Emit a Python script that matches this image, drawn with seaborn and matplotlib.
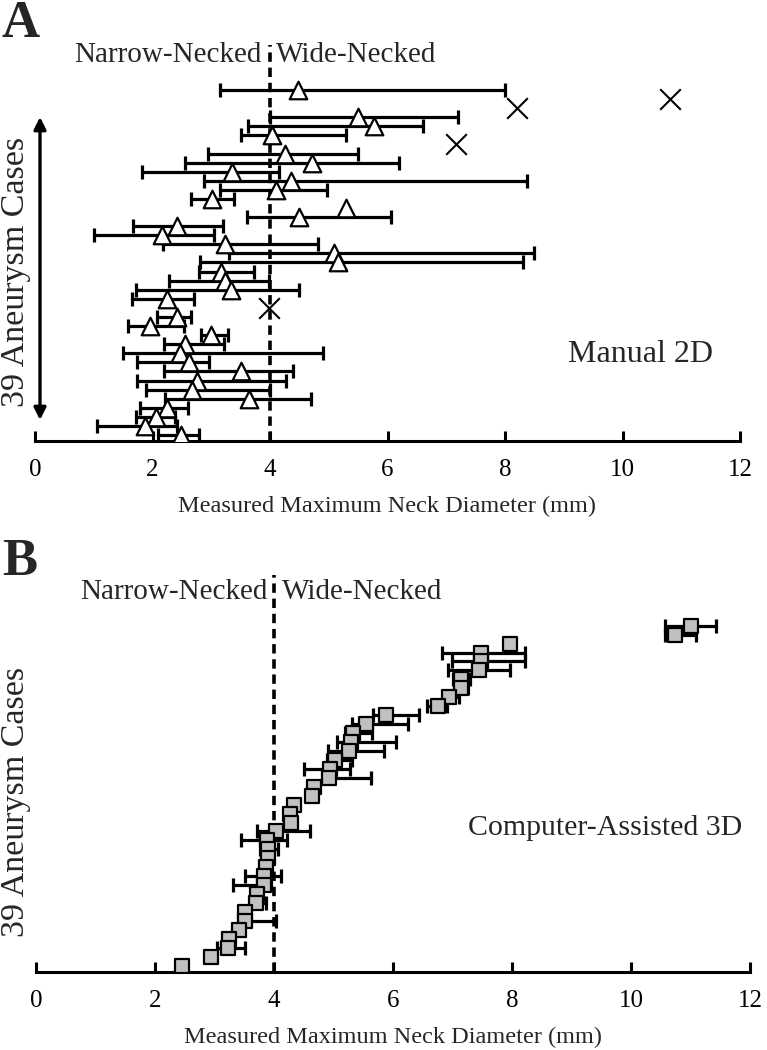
import numpy as np
import pandas as pd
import seaborn as sns
import matplotlib.pyplot as plt

# ---- panel A: manual 2D, one row per aneurysm (top to bottom) ----
# mean / lower / upper end of the bar, NaN where the case is drawn as an X
manual_mean = [4.47, np.nan, np.nan, 5.50, 5.77, 4.04, np.nan, 4.25, 4.71, 3.36,
               4.35, 4.10, 3.01, 5.29, 4.49, 2.42, 2.16, 3.24, 5.09, 5.16,
               3.16, 3.24, 3.33, 2.25, np.nan, 2.42, 1.96, 3.00, 2.56, 2.47,
               2.62, 3.50, 2.76, 2.67, 3.64, 2.25, 2.06, 1.87, 2.49]
manual_lo = [3.15, np.nan, np.nan, 4.00, 3.63, 3.50, np.nan, 2.95, 2.56, 1.82,
             2.88, 3.15, 2.65, np.nan, 3.60, 1.66, 1.00, 2.18, 3.30, 2.80,
             2.79, 2.28, 1.72, 1.65, np.nan, 2.08, 1.58, 2.82, 2.19, 1.49,
             1.73, 2.20, 1.73, 1.89, 2.22, 1.78, 1.72, 1.06, 2.09]
manual_hi = [8.00, np.nan, np.nan, 7.20, 6.60, 5.29, np.nan, 5.49, 6.20, 4.16,
             8.37, 4.97, 3.38, np.nan, 6.06, 3.20, 3.04, 4.82, 8.50, 8.31,
             3.73, 3.99, 4.49, 2.71, np.nan, 2.66, 2.54, 3.29, 3.22, 4.90,
             2.97, 4.39, 4.27, 4.00, 4.69, 2.60, 2.39, 2.42, 2.79]
outlier_row = [2, 3, 7, 25]
outlier_value = [10.80, 8.20, 7.17, 3.98]

# ---- panel B: computer-assisted 3D ----
cad_mean = [11.00, 10.74, 7.97, 7.48, 7.48, 7.45, 7.14, 7.14, 6.94, 6.76,
            5.88, 5.54, 5.33, 5.29, 5.26, 5.03, 4.94, 4.92, 4.67, 4.64,
            4.34, 4.27, 4.28, 4.03, 3.89, 3.90, 3.90, 3.87, 3.83, 3.83,
            3.72, 3.69, 3.52, 3.52, 3.42, 3.24, 3.22, 2.94, 2.46]
cad_lo = [10.57, 10.57, np.nan, 6.82, 6.99, 6.93, 7.00, 7.05, 6.85, 6.57,
          5.66, 5.31, 5.19, 5.06, 4.90, 4.89, 4.51, 4.85, np.nan, np.nan,
          np.nan, np.nan, np.nan, 3.72, 3.45, 3.76, np.nan, np.nan, 3.51, 3.31,
          np.nan, 3.60, np.nan, 3.45, np.nan, np.nan, 3.04, np.nan, np.nan]
cad_hi = [11.43, 11.09, np.nan, 8.22, 8.22, 7.97, 7.29, 7.26, 7.11, 6.90,
          6.43, 6.26, 5.65, 6.05, 5.85, 5.31, 5.28, 5.63, np.nan, np.nan,
          np.nan, np.nan, np.nan, 4.61, 4.22, 4.06, np.nan, np.nan, 4.12, 3.95,
          np.nan, 3.87, np.nan, 4.03, np.nan, np.nan, 3.51, np.nan, np.nan]

x_ticks = [0, 2, 4, 6, 8, 10, 12]
xlabel = "Measured Maximum Neck Diameter (mm)"

sns.set_style("white")
plt.rcParams['font.family'] = ['Liberation Serif', 'DejaVu Serif']

W, H = 767, 1050
fig = plt.figure(figsize=(W / 100, H / 100), dpi=100)


def fx(px):
    return px / W


def fy(py):
    return 1 - py / H


def make_df(mean, lo, hi):
    df = pd.DataFrame({'row': np.arange(1, len(mean) + 1),
                       'mean': mean, 'lo': lo, 'hi': hi})
    return df


def style_axis(ax):
    for s in ['top', 'left', 'right']:
        ax.spines[s].set_visible(False)
    ax.spines['bottom'].set_linewidth(2.2)
    ax.spines['bottom'].set_color('black')
    ax.set_xlim(0, 12)
    ax.set_xticks(x_ticks)
    ax.set_xticklabels([str(t) for t in x_ticks])
    ax.tick_params(axis='x', direction='in', length=7, width=2.2, colors='black',
                   labelsize=18, pad=13, bottom=True)
    ax.set_yticks([])
    ax.set_ylabel('')
    ax.set_xlabel(xlabel, fontsize=17.5, labelpad=11)
    ax.axvline(4, color='black', lw=2.6, ls=(0, (2.6, 1.6)), zorder=1)


def draw_bars(ax, df):
    d = df.dropna(subset=['lo', 'hi'])
    ax.errorbar(d['mean'], d['row'], xerr=[d['mean'] - d['lo'], d['hi'] - d['mean']],
                fmt='none', ecolor='black', elinewidth=2.3, capsize=5, capthick=2.3,
                zorder=2)


# ---- panel A ----
axA = fig.add_axes([fx(35), fy(441), fx(740) - fx(35), (441 - 45) / H])
dfA = make_df(manual_mean, manual_lo, manual_hi)
draw_bars(axA, dfA)
sns.scatterplot(data=dfA.dropna(subset=['mean']), x='mean', y='row', marker='^',
                s=160, color='white', edgecolor='black', linewidth=1.6, zorder=3, ax=axA)
sns.scatterplot(x=outlier_value, y=outlier_row, marker='x', s=220, color='black',
                linewidth=1.5, zorder=3, ax=axA)
step = (435 - 90) / 38
axA.set_ylim(39 + (441 - 435) / step, 1 - (90 - 45) / step)
style_axis(axA)

# ---- panel B ----
axB = fig.add_axes([fx(36), fy(972), fx(750) - fx(36), (972 - 575) / H])
dfB = make_df(cad_mean, cad_lo, cad_hi)
draw_bars(axB, dfB)
sns.scatterplot(data=dfB, x='mean', y='row', marker='s', s=115, color='#c0c0c0',
                edgecolor='black', linewidth=1.6, zorder=3, ax=axB)
step = (965.7 - 625.7) / 38
axB.set_ylim(39 + (972 - 965.7) / step, 1 - (625.7 - 575) / step)
style_axis(axB)

# ---- labels and arrows ----
for letter, ytop in [('A', 0), ('B', 538)]:
    fig.text(fx(2), fy(ytop), letter, fontsize=38, fontweight='bold', va='top', ha='left')

for yc, xr, xl in [(55, 262, 276), (592, 268, 282)]:
    fig.text(fx(xr), fy(yc), "Narrow-Necked", fontsize=21, ha='right', va='center')
    fig.text(fx(xl), fy(yc), "Wide-Necked", fontsize=21, ha='left', va='center')

fig.text(fx(641), fy(355), "Manual 2D", fontsize=23, ha='center', va='center')
fig.text(fx(605), fy(828), "Computer-Assisted 3D", fontsize=21.5, ha='center', va='center')

for xa, y0, y1, xt, yt in [(40, 117, 420, 16, 272), (43, 652, 952, 16, 802)]:
    fig.text(fx(xt), fy(yt), "39 Aneurysm Cases", fontsize=24.5,
             rotation=90, ha='center', va='center')
    axA.annotate('', xy=(fx(xa), fy(y0)), xytext=(fx(xa), fy(y1)),
                 xycoords='figure fraction', textcoords='figure fraction',
                 annotation_clip=False,
                 arrowprops=dict(arrowstyle='<|-|>', lw=2.4, color='black',
                                 mutation_scale=18, shrinkA=0, shrinkB=0))

fig.savefig("out.png", dpi=100)
